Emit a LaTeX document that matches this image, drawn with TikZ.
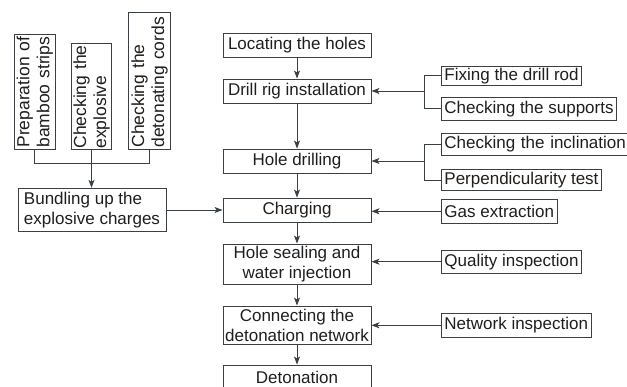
\documentclass[tikz,border=0pt]{standalone}
\usepackage{fontspec}
\setmainfont{Liberation Sans}
\usetikzlibrary{arrows.meta}
\definecolor{ln}{HTML}{3A3F44}
\definecolor{tx}{HTML}{1E1E1E}
\tikzset{
  base/.style={draw=ln, line width=0.9pt, text=tx, font=\fontsize{17pt}{20pt}\selectfont},
  mainbox/.style={base, minimum width=148pt, minimum height=24pt, inner sep=1pt, align=center},
  sidebox/.style={base, anchor=west, inner xsep=3pt, inner ysep=1pt, align=left},
  rotbox/.style={base, font=\fontsize{17.5pt}{20pt}\selectfont, rotate=90, anchor=west, inner xsep=2pt, inner ysep=1pt, align=left},
  conn/.style={draw=ln, line width=0.9pt},
  arr/.style={conn, -{Stealth[length=8pt, width=6pt, inset=2pt]}}
}
\begin{document}
\begin{tikzpicture}[x=1pt, y=-1pt]
\useasboundingbox (0,0) rectangle (627,387);
% main column
\node[mainbox] (loc) at (297,45) {Locating the holes};
\node[mainbox] (rig) at (297,91) {Drill rig installation};
\node[mainbox] (dril) at (297,161) {Hole drilling};
\node[mainbox] (chg) at (297,210) {Charging};
\node[mainbox, minimum height=40pt] (seal) at (297,264) {Hole sealing and\\water injection};
\node[mainbox, minimum height=38pt] (net) at (297,325) {Connecting the\\detonation network};
\node[mainbox] (det) at (297,377) {Detonation};
% side boxes
\node[sidebox, minimum height=19pt] (fix) at (441,75.7) {Fixing the drill rod};
\node[sidebox, minimum height=23pt] (sup) at (441,108.7) {Checking the supports};
\node[sidebox, minimum height=22pt, text width=186pt] (inc) at (441,144) {Checking the inclination};
\node[sidebox, minimum height=21pt] (perp) at (441,180) {Perpendicularity test};
\node[sidebox, minimum height=24pt] (gas) at (441,211.3) {Gas extraction};
\node[sidebox, minimum height=23pt] (qual) at (441,261.7) {Quality inspection};
\node[sidebox, minimum height=24pt] (ninsp) at (441,325.3) {Network inspection};
% left boxes
\node[rotbox, minimum height=41pt, text width=111pt] (prep) at (34.8,150) {Preparation of\\bamboo strips};
\node[rotbox, minimum height=40pt, inner xsep=1pt, text width=104pt] (expl) at (91.5,150) {Checking the\\explosive};
\node[rotbox, minimum height=42pt, text width=133pt] (cord) at (149.5,150) {Checking the\\detonating cords};
\node[base, minimum width=148pt, minimum height=43.5pt, inner sep=1pt, align=left] (bund) at (92,210) {Bundling up the\\explosive charges};
% main flow
\draw[arr] (loc) -- (rig);
\draw[arr] (rig) -- (dril);
\draw[arr] (dril) -- (chg);
\draw[arr] (chg) -- (seal);
\draw[arr] (seal) -- (net);
\draw[arr] (net) -- (det);
% brackets on right
\coordinate (bx) at (424,0);
\draw[conn] (fix.west) -- (fix.west -| bx) -- (sup.west -| bx) -- (sup.west);
\draw[arr] (rig.east -| bx) -- (rig.east);
\draw[conn] (inc.west) -- (inc.west -| bx) -- (perp.west -| bx) -- (perp.west);
\draw[arr] (dril.east -| bx) -- (dril.east);
\draw[arr] (gas.west) -- (gas.west -| chg.east);
\draw[arr] (qual.west) -- (qual.west -| seal.east);
\draw[arr] (ninsp.west) -- (ninsp.west -| net.east);
% left bracket
\coordinate (by) at (0,163.3);
\draw[conn] (prep.west) -- (prep.west |- by) -- (cord.west |- by) -- (cord.west);
\draw[arr] (expl.west) -- (expl.west |- bund.north);
\draw[arr] (bund.east) -- (bund.east -| chg.west);
\end{tikzpicture}
\end{document}
